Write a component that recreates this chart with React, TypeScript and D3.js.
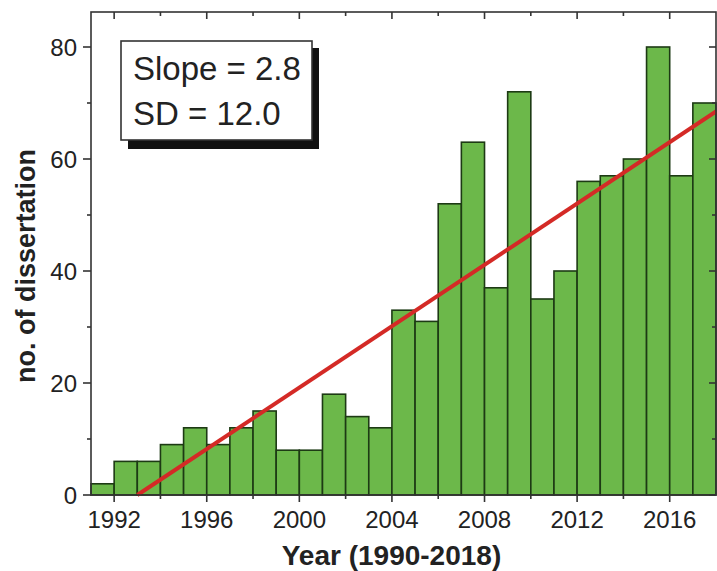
import React, { useRef, useEffect } from 'react';
import * as d3 from 'd3';

// dissertation counts per year
const years = [1991, 1992, 1993, 1994, 1995, 1996, 1997, 1998, 1999, 2000, 2001, 2002, 2003, 2004,
  2005, 2006, 2007, 2008, 2009, 2010, 2011, 2012, 2013, 2014, 2015, 2016, 2017];
const counts = [2, 6, 6, 9, 12, 9, 12, 15, 8, 8, 18, 14, 12, 33,
  31, 52, 63, 37, 72, 35, 40, 56, 57, 60, 80, 57, 70];

// fitted trend line end points
const trendX = [1993, 2018];
const trendY = [0, 68.5];

const xMajor = [1992, 1996, 2000, 2004, 2008, 2012, 2016];
const xMinor = [1994, 1998, 2002, 2006, 2010, 2014];
const yMajor = [0, 20, 40, 60, 80];
const yMinor = [10, 30, 50, 70];

const legendLines = ['Slope = 2.8', 'SD = 12.0'];

function App() {
  const svgRef = useRef<SVGSVGElement>(null);

  useEffect(() => {
    const svg = d3.select(svgRef.current);
    svg.selectAll('*').remove();

    const width = 717;
    const height = 571;
    const left = 91, right = 716, top = 12, bottom = 495;
    const font = '"Liberation Sans", Arial, sans-serif';
    const axisColor = '#333';

    const x = d3.scaleLinear().domain([1991, 2018]).range([left, right]);
    const y = d3.scaleLinear().domain([0, 86.25]).range([bottom, top]);

    svg.attr('width', width).attr('height', height);

    // bars
    svg.append('g')
      .selectAll('rect')
      .data(years.map((yr, i) => ({ yr, v: counts[i] })))
      .enter()
      .append('rect')
      .attr('x', d => x(d.yr))
      .attr('y', d => y(d.v))
      .attr('width', d => x(d.yr + 1) - x(d.yr))
      .attr('height', d => y(0) - y(d.v))
      .attr('fill', '#6cb84a')
      .attr('stroke', '#1d3a14')
      .attr('stroke-width', 1.6);

    // trend line
    svg.append('line')
      .attr('x1', x(trendX[0]))
      .attr('y1', y(trendY[0]))
      .attr('x2', x(trendX[1]))
      .attr('y2', y(trendY[1]))
      .attr('stroke', '#d42a26')
      .attr('stroke-width', 4);

    // frame
    svg.append('rect')
      .attr('x', left)
      .attr('y', top)
      .attr('width', right - left)
      .attr('height', bottom - top)
      .attr('fill', 'none')
      .attr('stroke', axisColor)
      .attr('stroke-width', 1.6);

    const ticks = svg.append('g').attr('stroke', axisColor).attr('stroke-width', 1.6);

    // x ticks: outward at bottom, inward at top
    xMajor.forEach(v => {
      ticks.append('line').attr('x1', x(v)).attr('x2', x(v)).attr('y1', bottom).attr('y2', bottom + 7);
      ticks.append('line').attr('x1', x(v)).attr('x2', x(v)).attr('y1', top).attr('y2', top + 7);
    });
    xMinor.forEach(v => {
      ticks.append('line').attr('x1', x(v)).attr('x2', x(v)).attr('y1', bottom).attr('y2', bottom + 4);
      ticks.append('line').attr('x1', x(v)).attr('x2', x(v)).attr('y1', top).attr('y2', top + 4);
    });

    // y ticks: outward at left, inward at right
    yMajor.forEach(v => {
      ticks.append('line').attr('x1', left - 8).attr('x2', left).attr('y1', y(v)).attr('y2', y(v));
      ticks.append('line').attr('x1', right - 7).attr('x2', right).attr('y1', y(v)).attr('y2', y(v));
    });
    yMinor.forEach(v => {
      ticks.append('line').attr('x1', left - 4).attr('x2', left).attr('y1', y(v)).attr('y2', y(v));
      ticks.append('line').attr('x1', right - 4).attr('x2', right).attr('y1', y(v)).attr('y2', y(v));
    });

    // tick labels
    svg.append('g')
      .selectAll('text')
      .data(xMajor)
      .enter()
      .append('text')
      .attr('x', d => x(d))
      .attr('y', 528)
      .attr('text-anchor', 'middle')
      .style('font-family', font)
      .style('font-size', '24px')
      .attr('fill', '#222')
      .text(d => d);

    svg.append('g')
      .selectAll('text')
      .data(yMajor)
      .enter()
      .append('text')
      .attr('x', 77)
      .attr('y', d => y(d) + 8.5)
      .attr('text-anchor', 'end')
      .style('font-family', font)
      .style('font-size', '24px')
      .attr('fill', '#222')
      .text(d => d);

    // axis titles
    svg.append('text')
      .attr('x', (left + right) / 2 - 12)
      .attr('y', 565)
      .attr('text-anchor', 'middle')
      .style('font-family', font)
      .style('font-size', '28px')
      .style('font-weight', 'bold')
      .attr('fill', '#222')
      .text('Year (1990-2018)');

    svg.append('text')
      .attr('transform', 'translate(35, 266) rotate(-90)')
      .attr('text-anchor', 'middle')
      .style('font-family', font)
      .style('font-size', '27px')
      .style('font-weight', 'bold')
      .attr('fill', '#222')
      .text('no. of dissertation');

    // legend box with shadow
    const lg = svg.append('g');
    lg.append('rect')
      .attr('x', 128).attr('y', 48).attr('width', 191).attr('height', 101)
      .attr('fill', '#111');
    lg.append('rect')
      .attr('x', 121).attr('y', 41).attr('width', 191).attr('height', 99)
      .attr('fill', '#fff')
      .attr('stroke', axisColor)
      .attr('stroke-width', 1.6);
    lg.selectAll('text')
      .data(legendLines)
      .enter()
      .append('text')
      .attr('x', 133)
      .attr('y', (d, i) => 80 + i * 45)
      .style('font-family', font)
      .style('font-size', '33px')
      .attr('fill', '#222')
      .text(d => d);
  }, []);

  return (
    <div style={{ position: 'absolute', left: 0, top: 0 }}>
      <svg ref={svgRef} style={{ display: 'block' }}></svg>
    </div>
  );
}

export default App;
